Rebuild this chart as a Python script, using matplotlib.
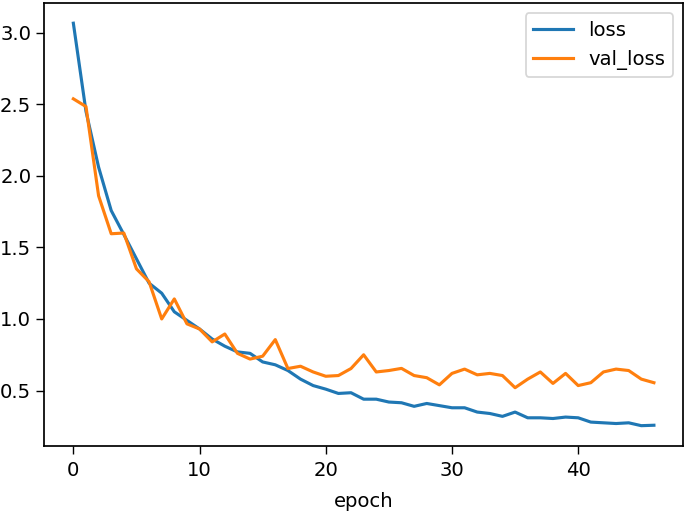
import matplotlib
matplotlib.use("Agg")
import matplotlib.pyplot as plt

epochs = list(range(47))
loss = [3.065, 2.45, 2.06, 1.757, 1.59, 1.42, 1.25, 1.18, 1.05, 0.99,
        0.93, 0.86, 0.81, 0.77, 0.76, 0.70, 0.68, 0.64, 0.58, 0.535,
        0.51, 0.48, 0.485, 0.44, 0.44, 0.42, 0.415, 0.39, 0.41, 0.395,
        0.38, 0.38, 0.35, 0.34, 0.32, 0.35, 0.31, 0.31, 0.305, 0.315,
        0.31, 0.28, 0.275, 0.27, 0.275, 0.255, 0.258]
val_loss = [2.537, 2.483, 1.86, 1.595, 1.60, 1.35, 1.26, 1.0, 1.14, 0.966,
            0.93, 0.84, 0.895, 0.76, 0.72, 0.74, 0.856, 0.654, 0.67, 0.63,
            0.60, 0.605, 0.654, 0.75, 0.63, 0.64, 0.655, 0.605, 0.59, 0.54,
            0.62, 0.65, 0.61, 0.62, 0.605, 0.52, 0.58, 0.63, 0.55, 0.62,
            0.535, 0.555, 0.63, 0.65, 0.64, 0.58, 0.555]

plt.rcParams['font.size'] = 11.3
plt.rcParams['lines.linewidth'] = 1.8
plt.rcParams['axes.linewidth'] = 1.0
plt.rcParams['xtick.major.size'] = 4.5
plt.rcParams['ytick.major.size'] = 4.5
plt.rcParams['xtick.major.pad'] = 4.5
plt.rcParams['ytick.major.pad'] = 3.0

fig = plt.figure(figsize=(685/125, 513/125), dpi=125)
ax = fig.add_axes([0.0647, 0.131, 0.997 - 0.0647, 0.994 - 0.131])
ax.plot(epochs, loss, label="loss")
ax.plot(epochs, val_loss, label="val_loss")
ax.set_xlabel("epoch", labelpad=6.5)
ax.legend(loc="upper right")
fig.savefig("out.png", dpi=125)
